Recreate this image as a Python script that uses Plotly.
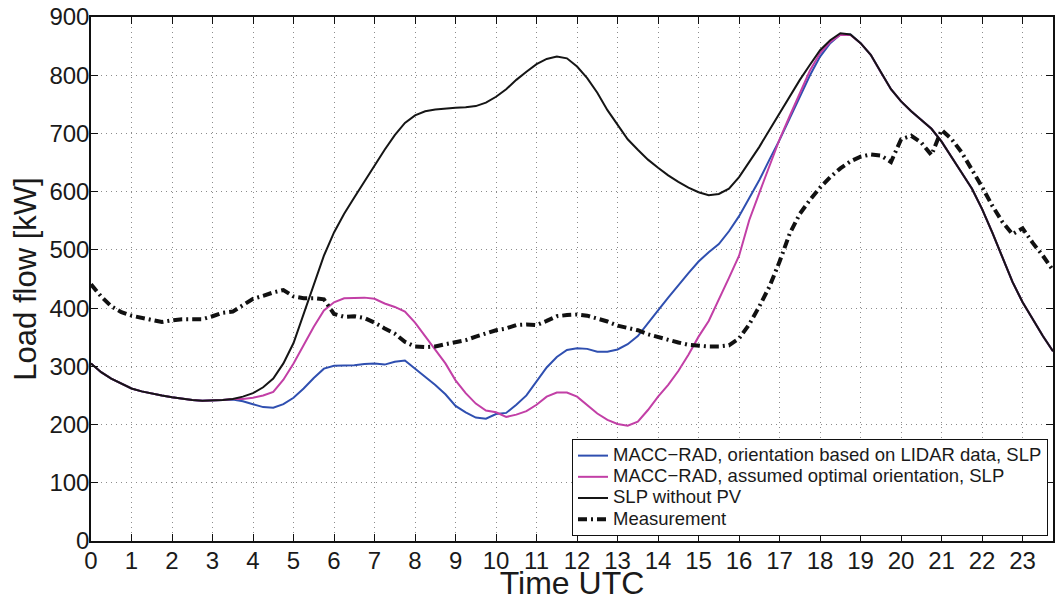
import plotly.graph_objects as go

hours = [i * 0.25 for i in range(96)]

slp_without_pv = [
    305, 290, 279, 270, 262, 257, 253, 250, 247, 244, 242, 241,
    241, 242, 244, 248, 254, 264, 279, 305, 340, 390, 440, 490,
    530, 562, 590, 618, 645, 672, 697, 718, 731, 738, 741, 743,
    744, 745, 747, 753, 763, 776, 792, 806, 819, 828, 832, 829,
    815, 795, 770, 740, 714, 690, 672, 655, 641, 628, 617, 607,
    599, 594, 596, 605, 625, 650, 677, 706, 735, 764, 792, 818,
    843, 860, 872, 870, 855, 835, 805, 776, 755, 738, 723, 708,
    686, 660, 632, 605, 570, 530, 488, 445, 410, 380, 352, 326,
]

macc_lidar = [
    305, 290, 279, 270, 262, 257, 253, 250, 247, 244, 242, 241,
    241, 242, 243, 240, 235, 230, 229, 235, 246, 262, 280, 296,
    301, 301, 302, 304, 305, 303, 308, 310, 296, 282, 268, 252,
    232, 221, 212, 210, 218, 220, 234, 250, 273, 298, 316, 328,
    331, 330, 325, 325, 329, 338, 352, 373, 396, 418, 440, 460,
    480, 496, 510, 532, 558, 590, 620, 655, 689, 726, 763, 800,
    832, 855, 870, 870, 855, 835, 805, 776, 755, 738, 723, 708,
    686, 660, 632, 605, 570, 530, 488, 445, 410, 380, 352, 326,
]

macc_optimal = [
    305, 290, 279, 270, 262, 257, 253, 250, 247, 244, 242, 241,
    241, 242, 244, 244, 246, 250, 256, 277, 305, 337, 368, 396,
    410, 417, 418, 418, 416, 408, 402, 394, 375, 352, 328, 305,
    276, 254, 236, 224, 221, 213, 217, 223, 234, 248, 255, 255,
    248, 234, 219, 208, 201, 198, 205, 225, 248, 268, 292, 320,
    351, 378, 414, 452, 490, 551, 598, 645, 690, 730, 770, 808,
    838, 857, 869, 869, 855, 835, 805, 776, 755, 738, 723, 708,
    686, 660, 632, 605, 570, 530, 488, 445, 410, 380, 352, 326,
]

measurement = [
    441, 420, 403, 393, 387, 383, 380, 376, 379, 381, 381, 381,
    386, 392, 394, 405, 416, 421, 427, 431, 420, 417, 417, 415,
    390, 385, 386, 383, 375, 365, 356, 342, 334, 333, 334, 338,
    341, 345, 351, 357, 362, 365, 371, 372, 371, 378, 386, 388,
    389, 387, 382, 377, 370, 366, 362, 355, 350, 346, 341, 337,
    335, 334, 334, 336, 348, 372, 403, 437, 480, 528, 562, 586,
    607, 625, 640, 652, 660, 664, 662, 651, 690, 696, 684, 663,
    706, 690, 667, 638, 608, 576, 548, 527, 537, 512, 490, 465,
]

x_ticks = list(range(0, 24))
y_ticks = list(range(0, 1000, 100))

names = [
    "MACC\u2212RAD, orientation based on LIDAR data, SLP",
    "MACC\u2212RAD, assumed optimal orientation, SLP",
    "SLP without PV",
    "Measurement",
]


def legend_label(text):
    # larger glyphs than the legend's row-spacing font (tight MATLAB-like rows)
    return '<span style="font-size:18.5px">' + text + "</span>"


fig = go.Figure()
fig.add_trace(go.Scatter(x=hours, y=macc_lidar, mode="lines", name=legend_label(names[0]),
                         line=dict(color="#2f4fb0", width=2)))
fig.add_trace(go.Scatter(x=hours, y=macc_optimal, mode="lines", name=legend_label(names[1]),
                         line=dict(color="#c23fa6", width=2)))
fig.add_trace(go.Scatter(x=hours, y=slp_without_pv, mode="lines", name=legend_label(names[2]),
                         line=dict(color="#151515", width=2)))
fig.add_trace(go.Scatter(x=hours, y=measurement, mode="lines", name=legend_label(names[3]),
                         line=dict(color="#111111", width=4, dash="9px,4px,2px,4px")))

font_family = "Liberation Sans, Arial, sans-serif"

fig.update_layout(
    width=1055, height=601,
    margin=dict(l=91, r=2, t=17, b=60, autoexpand=False),
    paper_bgcolor="white", plot_bgcolor="white",
    font=dict(family=font_family, color="#1a1a1a"),
    legend=dict(
        x=0.5, y=0.0095, xanchor="left", yanchor="bottom",
        bgcolor="white", bordercolor="#111111", borderwidth=1,
        font=dict(size=14, family=font_family, color="#1a1a1a"),
        itemwidth=30, tracegroupgap=0,
    ),
    showlegend=True,
)

grid_style = dict(showgrid=True, gridcolor="#8c8c8c", griddash="1px,4px", gridwidth=1)

fig.update_xaxes(
    range=[0, 23.75], tickmode="array", tickvals=x_ticks,
    ticktext=[str(t) for t in x_ticks],
    tickfont=dict(size=24), ticks="inside", ticklen=7, tickcolor="#111111",
    ticklabelstandoff=-3, ticklabeloverflow="allow",
    showline=True, linecolor="#111111", linewidth=1.5, mirror="ticks",
    zeroline=False, automargin=False,
    title=dict(text="Time UTC", font=dict(size=32), standoff=1),
    **grid_style,
)
fig.update_yaxes(
    range=[0, 900], tickmode="array", tickvals=y_ticks,
    ticktext=[str(t) for t in y_ticks],
    tickfont=dict(size=24), ticks="inside", ticklen=7, tickcolor="#111111",
    ticklabelstandoff=-5, ticklabeloverflow="allow",
    showline=True, linecolor="#111111", linewidth=1.5, mirror="ticks",
    zeroline=False, automargin=False,
    title=dict(text="Load flow [kW]", font=dict(size=31), standoff=4),
    **grid_style,
)

fig.write_html(
    "out.html",
    config={"displayModeBar": False},
    post_script="document.body.style.margin='0';document.body.style.overflow='hidden';",
)
